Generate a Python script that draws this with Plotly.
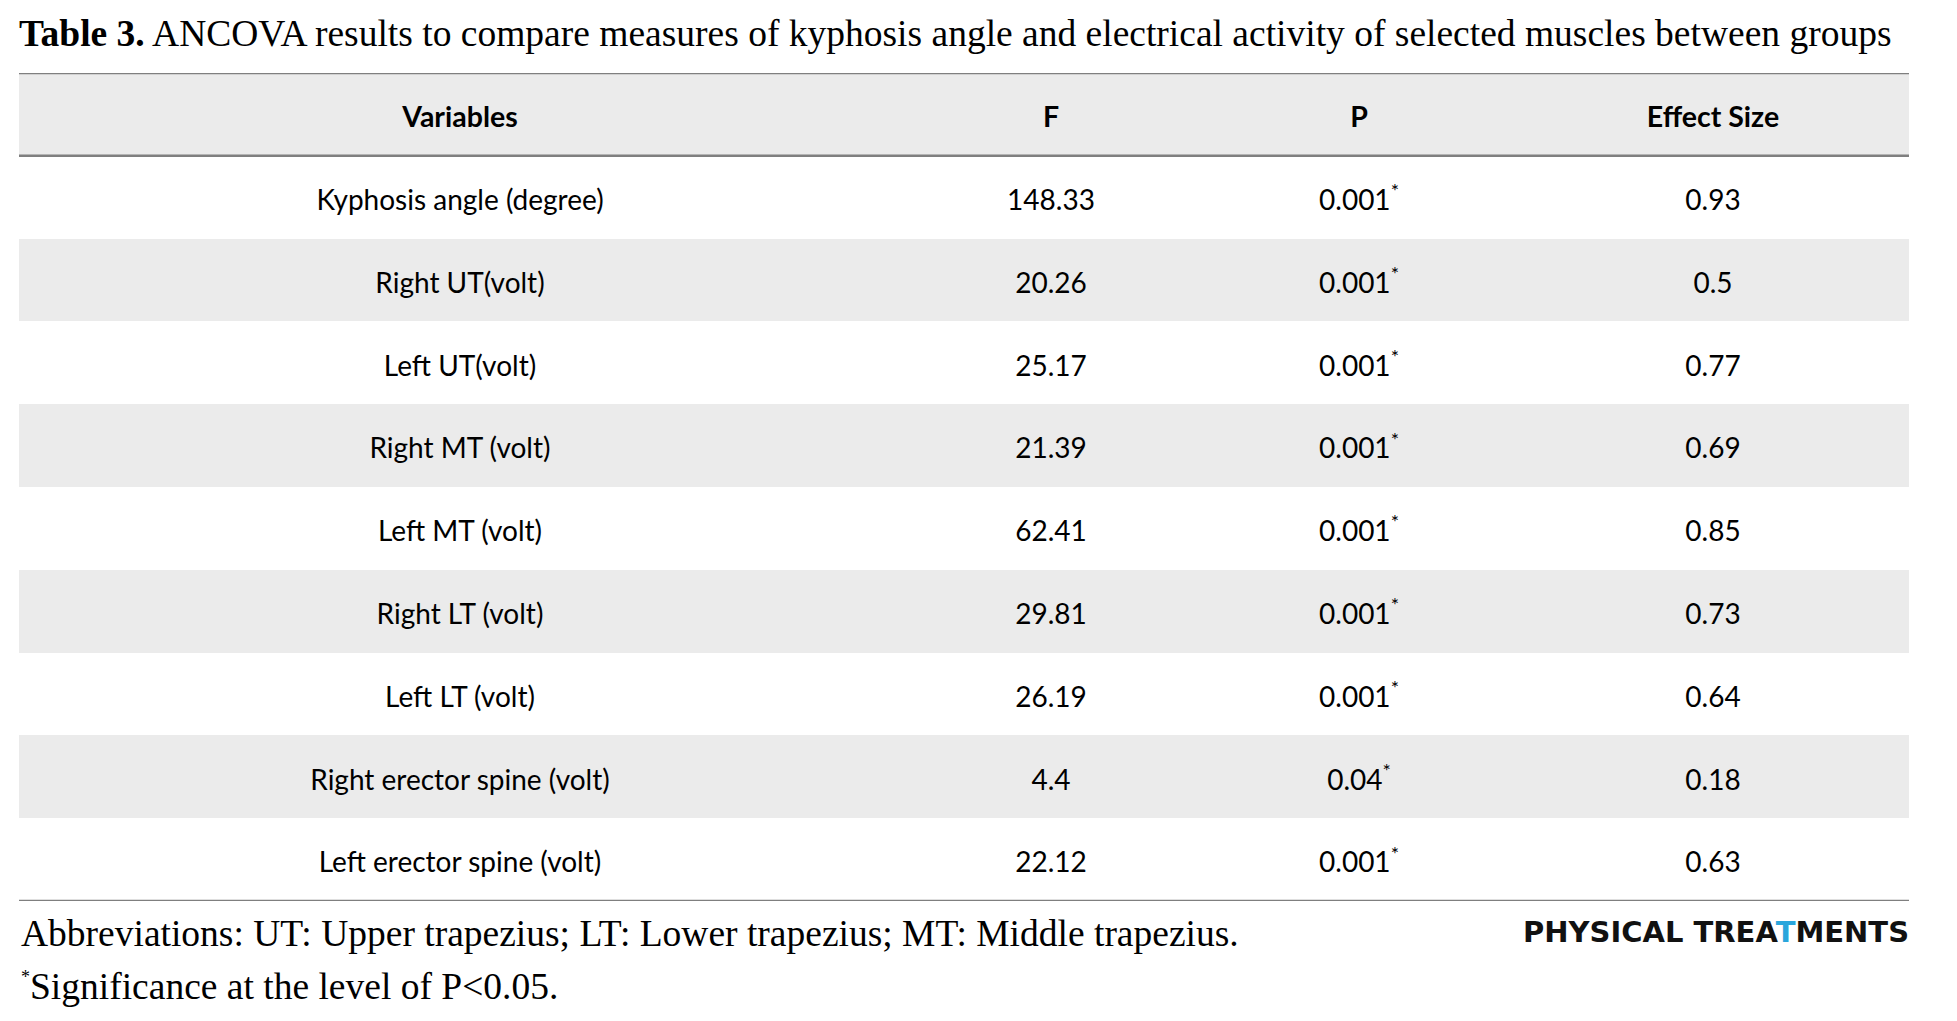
import plotly.graph_objects as go

# ---- data ----
headers = ["Variables", "F", "P", "Effect Size"]
variables = ["Kyphosis angle (degree)", "Right UT(volt)", "Left UT(volt)", "Right MT (volt)",
             "Left MT (volt)", "Right LT (volt)", "Left LT (volt)",
             "Right erector spine (volt)", "Left erector spine (volt)"]
f_values = ["148.33", "20.26", "25.17", "21.39", "62.41", "29.81", "26.19", "4.4", "22.12"]
p_values = ["0.001", "0.001", "0.001", "0.001", "0.001", "0.001", "0.001", "0.04", "0.001"]
effect_sizes = ["0.93", "0.5", "0.77", "0.69", "0.85", "0.73", "0.64", "0.18", "0.63"]
title_bold = "Table 3."
title_rest = "ANCOVA results to compare measures of kyphosis angle and electrical activity of selected muscles between groups"
note_abbr = "Abbreviations: UT: Upper trapezius; LT: Lower trapezius; MT: Middle trapezius."
note_sig = "Significance at the level of P&lt;0.05."
alpha = 0.05

# ---- layout constants ----
W, H = 1957, 1021
L, R, T, B = 19, 1909, 73, 901
col_widths = [882, 300, 316, 392]
GRAY = "#ebebeb"
RULE = "#7f7f7f"
BODY_FONT = "Lato"
SERIF = "Liberation Serif"
TEXT_DY = 0.07   # small downward nudge of cell text (row units)

total = sum(col_widths)
centers = []
acc = 0
for w in col_widths:
    centers.append((acc + w / 2) / total)
    acc += w

n_rows = len(variables) + 1
row_idx = list(range(n_rows))
p_text = [p + ("<sup>*</sup>" if float(p) < alpha else "") for p in p_values]
columns = [variables, f_values, p_text, effect_sizes]

fig = go.Figure()

# row stripes (header + alternating rows)
fills = [GRAY if (i % 2 == 0) else "white" for i in row_idx]
fig.add_trace(go.Bar(
    y=row_idx, x=[1] * n_rows, base=0, orientation="h", width=1,
    marker=dict(color=fills, line=dict(width=0)),
    hoverinfo="skip", showlegend=False,
))

# header texts
fig.add_trace(go.Scatter(
    x=centers, y=[0 + TEXT_DY] * len(headers), mode="text",
    text=[f"<b>{h}</b>" for h in headers],
    textposition="middle center",
    textfont=dict(family=BODY_FONT, size=28.5, color="#000"),
    hoverinfo="skip", showlegend=False,
))

# body texts
for c, vals in zip(centers, columns):
    fig.add_trace(go.Scatter(
        x=[c] * len(vals), y=[r + TEXT_DY for r in row_idx[1:]], mode="text", text=vals,
        textposition="middle center",
        textfont=dict(family=BODY_FONT, size=28, color="#000"),
        hoverinfo="skip", showlegend=False,
    ))

# horizontal rules
for yy in [-0.5, 0.5, n_rows - 0.5]:
    fig.add_shape(type="line", xref="x", yref="y", x0=0, x1=1, y0=yy, y1=yy,
                  line=dict(color=RULE, width=2.5), layer="above")

plot_h = B - T
fig.add_annotation(xref="paper", yref="paper", x=0, y=(B - 933) / plot_h,
                   xanchor="left", yanchor="middle", showarrow=False,
                   text=note_abbr, font=dict(family=SERIF, size=37.5, color="#000"))
fig.add_annotation(xref="paper", yref="paper", x=0, y=(B - 986) / plot_h,
                   xanchor="left", yanchor="middle", showarrow=False,
                   text="<sup><span style='font-size:18px'>*</span></sup>" + note_sig,
                   font=dict(family=SERIF, size=37.5, color="#000"))
fig.add_annotation(xref="paper", yref="paper", x=1.001, y=(B - 932) / plot_h,
                   xanchor="right", yanchor="middle", showarrow=False,
                   text="<b>PHYSICAL TREA</b><b><span style='color:#2aa6dc'>T</span></b><b>MENTS</b>",
                   font=dict(family="DejaVu Sans", size=29, color="#111"))

fig.update_layout(
    width=W, height=H,
    margin=dict(l=L, r=W - R, t=T, b=H - B, pad=0),
    paper_bgcolor="white", plot_bgcolor="white",
    title=dict(text=f"<b>{title_bold}</b> {title_rest}", x=L / W, xanchor="left",
               xref="container", yref="container", y=1 - 33 / H, yanchor="middle",
               font=dict(family=SERIF, size=37.5, color="#000")),
    xaxis=dict(range=[0, 1], visible=False, fixedrange=True),
    yaxis=dict(range=[n_rows - 0.5, -0.5], visible=False, fixedrange=True),
    bargap=0,
)

fig.write_html("out.html", config={"displayModeBar": False, "staticPlot": True},
               post_script="document.body.style.margin='0';")
